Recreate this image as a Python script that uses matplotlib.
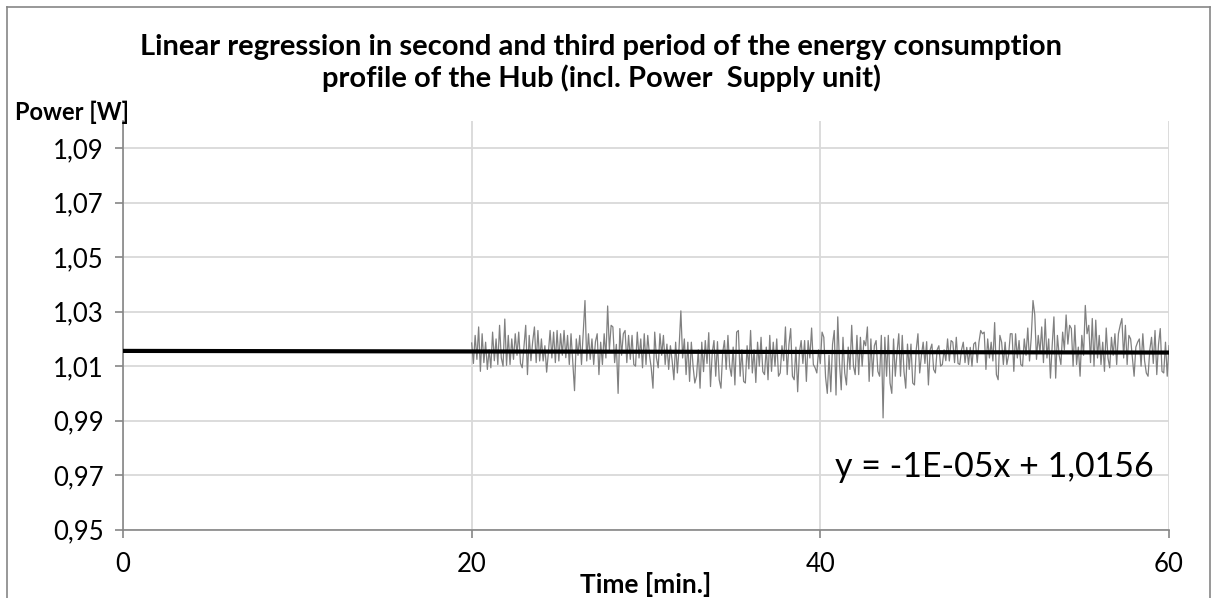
import numpy as np
import matplotlib.pyplot as plt
from matplotlib.lines import Line2D
from matplotlib.ticker import FuncFormatter

# Power readings of the hub [W] in blocks of ~5.7 minutes
power_a = [1.0185, 1.0110, 1.0213, 1.0125, 1.0244, 1.0081, 1.0219, 1.0113, 1.0188, 1.0088,
           1.0160, 1.0094, 1.0225, 1.0120, 1.0200, 1.0106, 1.0250, 1.0130, 1.0100, 1.0273,
           1.0103, 1.0213, 1.0106, 1.0200, 1.0125, 1.0219, 1.0140, 1.0225, 1.0110, 1.0094,
           1.0170, 1.0250, 1.0069, 1.0213, 1.0120, 1.0190, 1.0244, 1.0113, 1.0231, 1.0119,
           1.0200, 1.0119, 1.0175, 1.0078, 1.0150, 1.0231, 1.0130, 1.0225, 1.0113, 1.0231,
           1.0119, 1.0219, 1.0140, 1.0231, 1.0131]
power_b = [1.0213, 1.0106, 1.0219, 1.0113, 1.0010, 1.0200, 1.0140, 1.0213, 1.0106, 1.0225,
           1.0341, 1.0119, 1.0219, 1.0125, 1.0200, 1.0106, 1.0190, 1.0219, 1.0069, 1.0188,
           1.0106, 1.0219, 1.0130, 1.0321, 1.0160, 1.0250, 1.0244, 1.0113, 1.0180, 1.0000,
           1.0238, 1.0140, 1.0219, 1.0231, 1.0113, 1.0213, 1.0125, 1.0213, 1.0106, 1.0100,
           1.0225, 1.0130, 1.0200, 1.0094, 1.0219, 1.0106, 1.0213, 1.0140, 1.0094, 1.0019,
           1.0225, 1.0130, 1.0094, 1.0219, 1.0140, 1.0213, 1.0106]
power_c = [1.0181, 1.0088, 1.0175, 1.0120, 1.0050, 1.0188, 1.0075, 1.0170, 1.0303, 1.0130,
           1.0200, 1.0069, 1.0188, 1.0044, 1.0188, 1.0100, 1.0038, 1.0063, 1.0160, 1.0019,
           1.0188, 1.0080, 1.0194, 1.0110, 1.0223, 1.0025, 1.0150, 1.0194, 1.0063, 1.0190,
           1.0050, 1.0019, 1.0150, 1.0194, 1.0088, 1.0213, 1.0100, 1.0063, 1.0170, 1.0031,
           1.0225, 1.0231, 1.0063, 1.0160, 1.0044, 1.0038, 1.0175, 1.0090, 1.0231, 1.0075,
           1.0160, 1.0040, 1.0188, 1.0100, 1.0206, 1.0080, 1.0069]
power_d = [1.0170, 1.0050, 1.0213, 1.0081, 1.0188, 1.0100, 1.0200, 1.0063, 1.0075, 1.0175,
           1.0120, 1.0244, 1.0069, 1.0180, 1.0238, 1.0063, 1.0050, 1.0170, 1.0006, 1.0150,
           1.0194, 1.0110, 1.0194, 1.0044, 1.0194, 1.0130, 1.0240, 1.0106, 1.0094, 1.0075,
           1.0160, 1.0110, 1.0225, 1.0206, 1.0060, 1.0000, 1.0140, 1.0006, 1.0180, 1.0231,
           0.9994, 1.0281, 1.0110, 1.0013, 1.0206, 1.0075, 1.0031, 1.0170, 1.0088, 1.0250,
           1.0100, 1.0069, 1.0213, 1.0069, 1.0206, 1.0100, 1.0194]
power_e = [1.0175, 1.0244, 1.0044, 1.0200, 1.0063, 1.0175, 1.0194, 1.0081, 1.0063, 1.0213,
           0.9910, 1.0206, 1.0063, 1.0213, 1.0038, 1.0000, 1.0200, 1.0063, 1.0150, 1.0219,
           1.0063, 1.0213, 1.0080, 1.0019, 1.0181, 1.0088, 1.0181, 1.0038, 1.0031, 1.0160,
           1.0219, 1.0075, 1.0140, 1.0188, 1.0110, 1.0190, 1.0031, 1.0160, 1.0181, 1.0088,
           1.0075, 1.0160, 1.0175, 1.0100, 1.0106, 1.0160, 1.0120, 1.0200, 1.0119, 1.0194,
           1.0188, 1.0113, 1.0206, 1.0110, 1.0106, 1.0160, 1.0188, 1.0113]
power_f = [1.0169, 1.0106, 1.0169, 1.0100, 1.0181, 1.0188, 1.0113, 1.0188, 1.0231, 1.0219,
           1.0225, 1.0088, 1.0200, 1.0130, 1.0188, 1.0119, 1.0260, 1.0069, 1.0050, 1.0213,
           1.0188, 1.0106, 1.0188, 1.0106, 1.0140, 1.0219, 1.0219, 1.0081, 1.0219, 1.0130,
           1.0194, 1.0106, 1.0100, 1.0200, 1.0140, 1.0240, 1.0119, 1.0206, 1.0341, 1.0290,
           1.0125, 1.0213, 1.0150, 1.0244, 1.0113, 1.0273, 1.0130, 1.0200, 1.0056, 1.0175,
           1.0281, 1.0056, 1.0213, 1.0140, 1.0106, 1.0225, 1.0160, 1.0288]
power_g = [1.0181, 1.0250, 1.0238, 1.0100, 1.0250, 1.0106, 1.0170, 1.0063, 1.0213, 1.0140,
           1.0323, 1.0219, 1.0250, 1.0113, 1.0275, 1.0100, 1.0269, 1.0130, 1.0213, 1.0106,
           1.0188, 1.0081, 1.0240, 1.0130, 1.0094, 1.0206, 1.0140, 1.0219, 1.0106, 1.0219,
           1.0250, 1.0275, 1.0130, 1.0250, 1.0106, 1.0213, 1.0200, 1.0130, 1.0063, 1.0170,
           1.0188, 1.0200, 1.0100, 1.0219, 1.0120, 1.0075, 1.0063, 1.0160, 1.0206, 1.0110,
           1.0231, 1.0069, 1.0180, 1.0238, 1.0081, 1.0075, 1.0188, 1.0063, 1.0175]

power = power_a + power_b + power_c + power_d + power_e + power_f + power_g
t_start, t_end = 20, 60
time_min = np.linspace(t_start, t_end, len(power))

# trendline as given by the equation on the chart
slope = -1e-05
intercept = 1.0156
trend_x = [0, 60]

y_ticks = [0.95, 0.97, 0.99, 1.01, 1.03, 1.05, 1.07, 1.09]
x_ticks = [0, 20, 40, 60]

plt.rcParams['font.family'] = ['Lato', 'DejaVu Sans']

fig = plt.figure(figsize=(12.12, 5.98), dpi=100)
ax = fig.add_axes([0.1015, 0.1145, 0.863, 0.683])

ax.plot(time_min, power, color='#808080', lw=0.9, zorder=2)
ax.plot(trend_x, [slope * x + intercept for x in trend_x], color='black', lw=3, zorder=3)

ax.set_xlim(0, 60)
ax.set_ylim(0.95, 1.10)
ax.set_xticks(x_ticks)
ax.set_yticks(y_ticks)
ax.yaxis.set_major_formatter(FuncFormatter(lambda v, p: f'{v:.2f}'.replace('.', ',')))
ax.xaxis.set_major_formatter(FuncFormatter(lambda v, p: f'{v:.0f}'))
ax.tick_params(axis='both', direction='out', length=6, width=1.2, color='#868686',
               labelsize=18.5, pad=8)
ax.tick_params(axis='x', pad=10)
ax.grid(True, color='#d9d9d9', lw=1.3, zorder=0)
for side in ['top', 'right']:
    ax.spines[side].set_visible(False)
for side in ['left', 'bottom']:
    ax.spines[side].set_color('#868686')
    ax.spines[side].set_linewidth(1.2)

ax.text(0.985, 0.153, 'y = -1E-05x + 1,0156', transform=ax.transAxes, ha='right',
        va='center', fontsize=24.5)

fig.text(0.496, 0.894, 'Linear regression in second and third period of the energy consumption\n'
         'profile of the Hub (incl. Power  Supply unit)', ha='center', va='center',
         fontsize=21, fontweight='bold', linespacing=1.2)
fig.text(0.012, 0.812, 'Power [W]', ha='left', va='center', fontsize=17, fontweight='bold')
fig.text(0.533, 0.023, 'Time [min.]', ha='center', va='center', fontsize=19, fontweight='bold')

# chart frame
frame = dict(color='#868686', lw=1.2, transform=fig.transFigure)
fig.add_artist(Line2D([0.006, 0.006], [0, 0.989], **frame))
fig.add_artist(Line2D([0.006, 0.998], [0.989, 0.989], **frame))
fig.add_artist(Line2D([0.998, 0.998], [0, 0.989], **frame))

plt.savefig('out.png', dpi=100)
